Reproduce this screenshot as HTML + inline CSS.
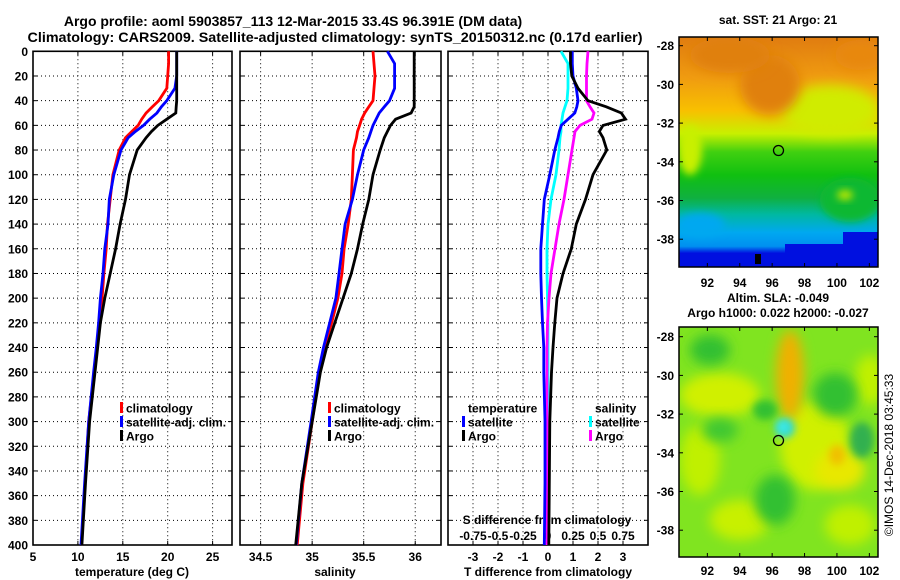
<!DOCTYPE html>
<html><head><meta charset="utf-8"><style>
body{margin:0;background:#fff;}
svg{display:block;font-family:"Liberation Sans",Arial,sans-serif;font-weight:bold;}
</style></head><body>
<svg id="c" width="900" height="580" viewBox="0 0 900 580" xmlns="http://www.w3.org/2000/svg">
<defs>
<filter id="bl" x="-50%" y="-50%" width="200%" height="200%"><feGaussianBlur stdDeviation="6"/></filter>
<filter id="bl2" x="-50%" y="-50%" width="200%" height="200%"><feGaussianBlur stdDeviation="4"/></filter>
<linearGradient id="sst" x1="0" y1="0" x2="0" y2="1">
<stop offset="0" stop-color="#e07c10"/><stop offset="0.18" stop-color="#f09c10"/><stop offset="0.32" stop-color="#f8c000"/>
<stop offset="0.42" stop-color="#c8f000"/><stop offset="0.5" stop-color="#40d010"/><stop offset="0.6" stop-color="#10c010"/>
<stop offset="0.7" stop-color="#10b040"/><stop offset="0.77" stop-color="#00b8a0"/><stop offset="0.85" stop-color="#00a8f0"/><stop offset="0.91" stop-color="#0090f0"/>
<stop offset="0.94" stop-color="#0010e0"/><stop offset="1" stop-color="#0010e0"/></linearGradient>
<clipPath id="m1"><rect x="679" y="37" width="199" height="230"/></clipPath>
<clipPath id="m2"><rect x="679" y="327" width="199" height="230"/></clipPath>
</defs>
<text x="293" y="26" text-anchor="middle" font-size="14">Argo profile: aoml 5903857_113 12-Mar-2015 33.4S 96.391E (DM data)</text>
<text x="335" y="42" text-anchor="middle" font-size="14" textLength="615" lengthAdjust="spacingAndGlyphs">Climatology: CARS2009. Satellite-adjusted climatology: synTS_20150312.nc (0.17d earlier)</text>

<!-- SST map -->
<g>
<g clip-path="url(#m1)">
<rect x="679" y="37" width="199" height="230" fill="url(#sst)"/>
<ellipse cx="830" cy="110" rx="50" ry="25" fill="#d0ec00" filter="url(#bl)"/>
<ellipse cx="690" cy="150" rx="12" ry="25" fill="#c8f000" filter="url(#bl2)"/>
<ellipse cx="770" cy="85" rx="30" ry="30" fill="#e08010" filter="url(#bl)"/>
<ellipse cx="730" cy="55" rx="40" ry="18" fill="#e08010" filter="url(#bl)"/>
<ellipse cx="860" cy="55" rx="25" ry="15" fill="#e88810" filter="url(#bl)"/>
<ellipse cx="850" cy="200" rx="30" ry="22" fill="#10b830" filter="url(#bl2)"/>
<ellipse cx="845" cy="195" rx="8" ry="5" fill="#c0e800" filter="url(#bl2)"/>
<ellipse cx="700" cy="225" rx="25" ry="12" fill="#00a8f0" filter="url(#bl2)"/>
<rect x="785" y="244" width="60" height="30" fill="#0010e0"/>
<rect x="843" y="232" width="40" height="40" fill="#0010e0"/>
<rect x="710" y="257" width="80" height="15" fill="#0010e0"/>
<rect x="755" y="254" width="6" height="10" fill="#000"/>
</g>
<rect x="679" y="37" width="199" height="230" fill="none" stroke="#000" stroke-width="1.5"/>
<circle cx="778.5" cy="150.5" r="5" fill="none" stroke="#000" stroke-width="1.3"/>
</g>
<text x="778" y="24" text-anchor="middle" font-size="12">sat. SST: 21 Argo: 21</text>

<!-- SLA map -->
<g>
<g clip-path="url(#m2)">
<rect x="679" y="327" width="199" height="230" fill="#80e420"/>
<ellipse cx="720" cy="395" rx="40" ry="22" fill="#d0f000" filter="url(#bl)"/>
<ellipse cx="815" cy="445" rx="35" ry="45" fill="#d0f000" filter="url(#bl)"/>
<ellipse cx="700" cy="460" rx="20" ry="35" fill="#c0f000" filter="url(#bl)"/>
<ellipse cx="840" cy="470" rx="25" ry="20" fill="#e8e800" filter="url(#bl)"/>
<ellipse cx="740" cy="520" rx="30" ry="20" fill="#c8f000" filter="url(#bl)"/>
<ellipse cx="850" cy="525" rx="25" ry="20" fill="#c0f000" filter="url(#bl)"/>
<ellipse cx="870" cy="380" rx="15" ry="25" fill="#c0f000" filter="url(#bl)"/>
<ellipse cx="790" cy="375" rx="14" ry="45" fill="#f0b000" filter="url(#bl)"/>
<ellipse cx="837" cy="455" rx="8" ry="10" fill="#f0c000" filter="url(#bl2)"/>
<ellipse cx="710" cy="350" rx="20" ry="15" fill="#30c030" filter="url(#bl)"/>
<ellipse cx="765" cy="410" rx="12" ry="10" fill="#30c030" filter="url(#bl2)"/>
<ellipse cx="835" cy="395" rx="22" ry="22" fill="#30c030" filter="url(#bl)"/>
<ellipse cx="862" cy="440" rx="12" ry="18" fill="#30b050" filter="url(#bl2)"/>
<ellipse cx="775" cy="500" rx="20" ry="25" fill="#30c030" filter="url(#bl)"/>
<ellipse cx="720" cy="430" rx="18" ry="12" fill="#40c830" filter="url(#bl)"/>
<ellipse cx="785" cy="428" rx="10" ry="10" fill="#30d8d0" filter="url(#bl2)"/>
<ellipse cx="783" cy="427" rx="5" ry="5" fill="#40f0f0" filter="url(#bl2)"/>
</g>
<rect x="679" y="327" width="199" height="230" fill="none" stroke="#000" stroke-width="1.5"/>
<circle cx="778.5" cy="440.5" r="5" fill="none" stroke="#000" stroke-width="1.3"/>
</g>
<text x="778" y="302" text-anchor="middle" font-size="12">Altim. SLA: -0.049</text>
<text x="778" y="317" text-anchor="middle" font-size="12">Argo h1000: 0.022 h2000: -0.027</text>
<text transform="translate(893,455) rotate(-90)" text-anchor="middle" font-size="12" font-weight="normal">©IMOS 14-Dec-2018 03:45:33</text>
<g id="dyn"></g>
</svg>
<script>
const depths = [0,10,20,30,40,45,50,55,60,65,70,80,100,120,140,160,180,200,220,240,260,300,350,400];
const tempClim = [20.1,20.1,20.0,19.9,19.0,18.3,17.6,17.1,16.7,16.0,15.3,14.6,13.9,13.6,13.3,13.15,12.9,12.7,12.4,12.1,11.8,11.2,10.8,10.4];
const tempSat = [21.0,21.0,21.0,20.8,19.9,19.3,18.8,18.0,17.3,16.4,15.6,14.8,14.0,13.5,13.35,13.0,12.8,12.5,12.3,12.05,11.75,11.2,10.75,10.35];
const tempArgo = [21.0,21.0,21.0,21.0,21.0,20.95,20.9,19.9,18.9,18.2,17.6,16.6,15.75,15.3,14.7,14.2,13.6,13.0,12.5,12.2,11.9,11.3,10.85,10.45];
const salClim = [35.59,35.60,35.61,35.60,35.59,35.55,35.51,35.48,35.46,35.44,35.43,35.40,35.39,35.38,35.35,35.31,35.29,35.25,35.19,35.12,35.07,35.0,34.91,34.855];
const salSat = [35.73,35.80,35.80,35.80,35.75,35.70,35.65,35.62,35.59,35.57,35.55,35.50,35.44,35.39,35.32,35.29,35.26,35.23,35.17,35.11,35.06,34.99,34.90,34.845];
const salArgo = [35.99,35.99,35.99,35.99,35.99,35.99,35.96,35.81,35.76,35.73,35.70,35.66,35.59,35.55,35.49,35.44,35.38,35.30,35.22,35.14,35.08,35.0,34.90,34.84];
const tDiffSat = [0.97,0.97,1.0,1.13,1.2,1.15,1.07,0.8,0.53,0.45,0.4,0.27,0.07,-0.15,-0.22,-0.29,-0.29,-0.26,-0.22,-0.17,-0.17,-0.12,-0.12,-0.15];
const tDiffArgo = [0.9,0.9,0.95,1.2,1.6,2.33,2.93,3.1,2.2,2.05,2.2,2.35,1.8,1.5,1.13,0.93,0.6,0.36,0.27,0.2,0.14,0.07,0.05,0.03];
const sDiffSat = [0.13,0.20,0.20,0.20,0.19,0.17,0.15,0.14,0.13,0.13,0.12,0.11,0.08,0.03,0.0,-0.01,-0.01,-0.005,0.0,0.0,0.0,0.0,0.0,0.0];
const sDiffArgo = [0.40,0.39,0.385,0.385,0.385,0.42,0.46,0.44,0.32,0.27,0.26,0.24,0.20,0.16,0.11,0.07,0.03,0.01,-0.005,-0.01,-0.01,-0.01,-0.01,-0.01];
const depthTicks = [0,20,40,60,80,100,120,140,160,180,200,220,240,260,280,300,320,340,360,380,400];
const tempTicks = [5,10,15,20,25];
const salTicks = [34.5,35,35.5,36];
const tDiffTicks = [-3,-2,-1,0,1,2,3];
const sDiffTicks = [-0.75,-0.5,-0.25,0,0.25,0.5,0.75];
const sDiffLabels = ["-0.75","-0.5","-0.25","0","0.25","0.5","0.75"];
const latTicks = [-28,-30,-32,-34,-36,-38];
const lonTicks = [92,94,96,98,100,102];

const NS='http://www.w3.org/2000/svg';
const g=document.getElementById('dyn');
function mk(tag,attrs,parent){const e=document.createElementNS(NS,tag);for(const k in attrs)e.setAttribute(k,attrs[k]);(parent||g).appendChild(e);return e;}
const Y0=51.3, Y1=545;
const yD=d=>Y0+d*(Y1-Y0)/400;
const panels=[
 {x0:33,x1:232,lo:5,hi:27.16,name:'temperature-panel'},
 {x0:240,x1:441,lo:34.3,hi:36.25,name:'salinity-panel'},
 {x0:448,x1:648,lo:-4,hi:4,name:'difference-panel'}];
function xs(p,v){return p.x0+(v-p.lo)*(p.x1-p.x0)/(p.hi-p.lo);}
panels.forEach((p,i)=>{
  const pg=mk('g',{});
  
  
  const ticks=[tempTicks,salTicks,tDiffTicks][i];
  ticks.forEach(t=>{const x=xs(p,t);
    const l=mk('line',{x1:x,x2:x,y1:Y0,y2:Y1,stroke:'#000','stroke-width':1,'stroke-dasharray':'1,3'},pg);
    
    
    mk('line',{x1:x,x2:x,y1:Y1,y2:Y1-4,stroke:'#000'},pg);mk('line',{x1:x,x2:x,y1:Y0,y2:Y0+4,stroke:'#000'},pg);});
  depthTicks.forEach(d=>{const y=yD(d);
    if(d>0&&d<400){const l=mk('line',{x1:p.x0,x2:p.x1,y1:y,y2:y,stroke:'#000','stroke-width':1,'stroke-dasharray':'1,3'},pg);
    
    }
    mk('line',{x1:p.x0,x2:p.x0+4,y1:y,y2:y,stroke:'#000'},pg);mk('line',{x1:p.x1,x2:p.x1-4,y1:y,y2:y,stroke:'#000'},pg);});
  mk('rect',{x:p.x0,y:Y0,width:p.x1-p.x0,height:Y1-Y0,fill:'none',stroke:'#000','stroke-width':1.6},pg);
});
depthTicks.forEach(d=>{const t=mk('text',{x:28,y:yD(d)+4.5,'text-anchor':'end','font-size':12});t.textContent=d;
  
  });
function xlab(p,ticks,labels,y,name){ticks.forEach((t,k)=>{const e=mk('text',{x:xs(p,t),y:y,'text-anchor':'middle','font-size':12});e.textContent=labels?labels[k]:t;
  
  });}
xlab(panels[0],tempTicks,null,561,'temperature-tick-label');
xlab(panels[1],salTicks,null,561,'salinity-tick-label');
xlab(panels[2],tDiffTicks,null,561,'t-diff-tick-label');
xlab({x0:448,x1:648,lo:-1,hi:1},sDiffTicks,sDiffLabels,540,'s-diff-tick-label');
function txt(x,y,s,name,anchor,size){const e=mk('text',{x:x,y:y,'text-anchor':anchor||'middle','font-size':size||12});e.textContent=s;
  
  return e;}
txt(132,576,'temperature (deg C)','temperature-axis-title');
txt(335,576,'salinity','salinity-axis-title');
txt(548,576,'T difference from climatology','t-diff-axis-title');
txt(547,524,'S difference from climatology','s-diff-axis-title');
function series(p,vals,color,name,scale){
  const pts=depths.map((d,k)=>xs(p,vals[k]*(scale||1)).toFixed(1)+','+yD(d).toFixed(1)).join(' ');
  const e=mk('polyline',{points:pts,fill:'none',stroke:color,'stroke-width':2.8,'stroke-linejoin':'miter'});
  
  }
series(panels[0],tempClim,'#ff0000','temperature-climatology-line');
series(panels[0],tempSat,'#0000ff','temperature-satellite-line');
series(panels[0],tempArgo,'#000000','temperature-argo-line');
series(panels[1],salClim,'#ff0000','salinity-climatology-line');
series(panels[1],salSat,'#0000ff','salinity-satellite-line');
series(panels[1],salArgo,'#000000','salinity-argo-line');
series(panels[2],sDiffSat,'#00ffff','s-diff-satellite-line',4);
series(panels[2],sDiffArgo,'#ff00ff','s-diff-argo-line',4);
series(panels[2],tDiffSat,'#0000ff','t-diff-satellite-line');
series(panels[2],tDiffArgo,'#000000','t-diff-argo-line');
function legEntry(x,y,color,label,name){
  const lg=mk('g',{});
  
  
  if(color)mk('rect',{x:x-6,y:y-6,width:3,height:11,fill:color},lg);
  const t=mk('text',{x:x,y:y+4.5,'font-size':12},lg);t.textContent=label;}
[[126,'temp'],[334,'sal']].forEach(([x,n])=>{
  legEntry(x,408,'#ff0000','climatology','legend-entry-'+n+'-climatology');
  legEntry(x,422,'#0000ff','satellite-adj. clim.','legend-entry-'+n+'-satellite');
  legEntry(x,436,'#000000','Argo','legend-entry-'+n+'-argo');});
legEntry(468,408,null,'temperature','legend-header-temperature');
legEntry(468,422,'#0000ff','satellite','legend-entry-tdiff-satellite');
legEntry(468,436,'#000000','Argo','legend-entry-tdiff-argo');
legEntry(595,408,null,'salinity','legend-header-salinity');
legEntry(595,422,'#00ffff','satellite','legend-entry-sdiff-satellite');
legEntry(595,436,'#ff00ff','Argo','legend-entry-sdiff-argo');
function mapAxes(top,latY0,latStep,lonY){
  latTicks.forEach((la,k)=>{const y=latY0+k*latStep;
    mk('line',{x1:878,x2:874,y1:y,y2:y,stroke:'#000'});mk('line',{x1:679,x2:683,y1:y,y2:y,stroke:'#000'});
    txt(674,y+4.5,String(la),'map-lat-label','end');});
  lonTicks.forEach(lo=>{const x=679+(lo-90.25)*16.2;
    mk('line',{x1:x,x2:x,y1:top,y2:top+4,stroke:'#000'});mk('line',{x1:x,x2:x,y1:top+230,y2:top+226,stroke:'#000'});
    txt(x,lonY,String(lo),'map-lon-label');});}
mapAxes(37,45.7,38.7,287);
mapAxes(327,336.7,38.7,575);
</script>
</body></html>
